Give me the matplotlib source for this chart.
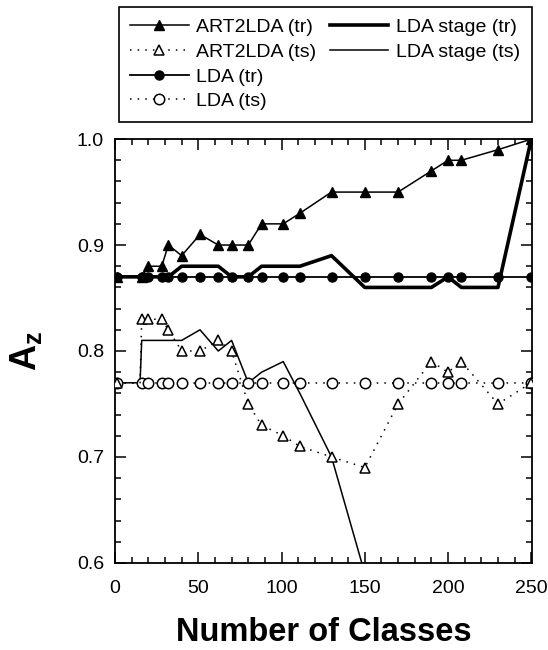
import matplotlib
matplotlib.use("Agg")
import matplotlib.pyplot as plt
from matplotlib.lines import Line2D
from matplotlib.ticker import MultipleLocator

plt.rcParams["font.family"] = ["Liberation Sans", "DejaVu Sans"]
plt.rcParams["mathtext.fontset"] = "custom"
plt.rcParams["mathtext.rm"] = "Liberation Sans"
plt.rcParams["mathtext.bf"] = "Liberation Sans:bold"

# number of classes at which each method was evaluated
n_classes = [1, 16, 20, 28, 32, 40, 51, 62, 70, 80, 88, 101, 111, 130,
             150, 170, 190, 200, 208, 230, 250]
n_classes_ts = [1, 15, 16, 20, 28, 32, 40, 51, 62, 70, 80, 88, 101, 111,
                130, 150, 170, 190, 200, 208, 230, 250]
n_classes_stage_ts = [1, 15, 16, 20, 28, 32, 40, 51, 62, 70, 80, 88, 101,
                      111, 130, 150]

art2lda_tr = [0.87, 0.87, 0.88, 0.88, 0.90, 0.89, 0.91, 0.90, 0.90, 0.90,
              0.92, 0.92, 0.93, 0.95, 0.95, 0.95, 0.97, 0.98, 0.98, 0.99, 1.00]
art2lda_ts = [0.77, 0.77, 0.83, 0.83, 0.83, 0.82, 0.80, 0.80, 0.81, 0.80,
              0.75, 0.73, 0.72, 0.71, 0.70, 0.69, 0.75, 0.79, 0.78, 0.79,
              0.75, 0.77]
lda_tr = [0.87, 0.87, 0.87, 0.87, 0.87, 0.87, 0.87, 0.87, 0.87, 0.87, 0.87,
          0.87, 0.87, 0.87, 0.87, 0.87, 0.87, 0.87, 0.87, 0.87, 0.87]
lda_ts = [0.77, 0.77, 0.77, 0.77, 0.77, 0.77, 0.77, 0.77, 0.77, 0.77, 0.77,
          0.77, 0.77, 0.77, 0.77, 0.77, 0.77, 0.77, 0.77, 0.77, 0.77]
stage_tr = [0.87, 0.87, 0.87, 0.87, 0.87, 0.88, 0.88, 0.88, 0.87, 0.87, 0.88,
            0.88, 0.88, 0.89, 0.86, 0.86, 0.86, 0.87, 0.86, 0.86, 1.00]
stage_ts = [0.77, 0.77, 0.81, 0.81, 0.81, 0.81, 0.81, 0.82, 0.80, 0.81, 0.77,
            0.78, 0.79, 0.76, 0.70, 0.59]

fig = plt.figure(figsize=(5.48, 6.5), dpi=100)
ax = fig.add_axes([0.21, 0.134, 0.761, 0.652])

dotted = (0, (1, 4))
ax.plot(n_classes, stage_tr, color="black", lw=2.6, label="LDA stage (tr)", zorder=2)
ax.plot(n_classes_stage_ts, stage_ts, color="black", lw=1.1, label="LDA stage (ts)", zorder=2)
ax.plot(n_classes, lda_tr, color="black", lw=1.3, marker="o", ms=6.5,
        label="LDA (tr)", zorder=3)
ax.plot(n_classes, lda_ts, color="black", lw=1.1, ls=dotted, marker="o", ms=7.5,
        mfc="white", mew=1.1, label="LDA (ts)", zorder=3)
ax.plot(n_classes, art2lda_tr, color="black", lw=1.1, marker="^", ms=6.5,
        label="ART2LDA (tr)", zorder=4)
ax.plot(n_classes_ts, art2lda_ts, color="black", lw=1.1, ls=dotted, marker="^",
        ms=7, mfc="white", mew=1.1, markevery=[0] + list(range(2, len(n_classes_ts))),
        label="ART2LDA (ts)", zorder=4)

ax.set_xlim(0, 250.5)
ax.set_ylim(0.6, 1.0)
ax.xaxis.set_major_locator(MultipleLocator(50))
ax.xaxis.set_minor_locator(MultipleLocator(10))
ax.yaxis.set_major_locator(MultipleLocator(0.1))
ax.yaxis.set_minor_locator(MultipleLocator(0.02))
ax.yaxis.set_major_formatter(lambda v, p: f"{v:.1f}")
ax.tick_params(which="both", direction="in", top=True, right=True, width=1.1)
ax.tick_params(which="major", length=8, labelsize=14)
ax.tick_params(which="minor", length=4)
ax.tick_params(axis="x", which="major", pad=12)
ax.tick_params(axis="y", which="major", pad=8)
for s in ax.spines.values():
    s.set_linewidth(1.3)

ax.set_xlabel("Number of Classes", fontsize=23.5, fontweight="bold")
ax.xaxis.set_label_coords(0.5, -0.128)
ax.set_ylabel(r"$\mathbf{A}_\mathbf{z}$", fontsize=26)
ax.yaxis.set_label_coords(-0.17, 0.5)

h, l = ax.get_legend_handles_labels()
order = ["ART2LDA (tr)", "ART2LDA (ts)", "LDA (tr)", "LDA (ts)",
         "LDA stage (tr)", "LDA stage (ts)"]
handles = [h[l.index(name)] for name in order]
blank = Line2D([], [], linestyle="none")
handles += [blank, blank]
labels = order + ["", ""]
leg = fig.legend(handles, labels, ncol=2, loc="upper right",
                 bbox_to_anchor=(532 / 548, 1 - 7 / 650), fontsize=14,
                 frameon=True, fancybox=False, framealpha=1, edgecolor="black",
                 handlelength=3.0, handletextpad=0.4, columnspacing=0.7,
                 labelspacing=0.36, borderpad=0.6, numpoints=1, borderaxespad=0)
leg.get_frame().set_linewidth(1.2)

fig.savefig("out.png", dpi=100)
